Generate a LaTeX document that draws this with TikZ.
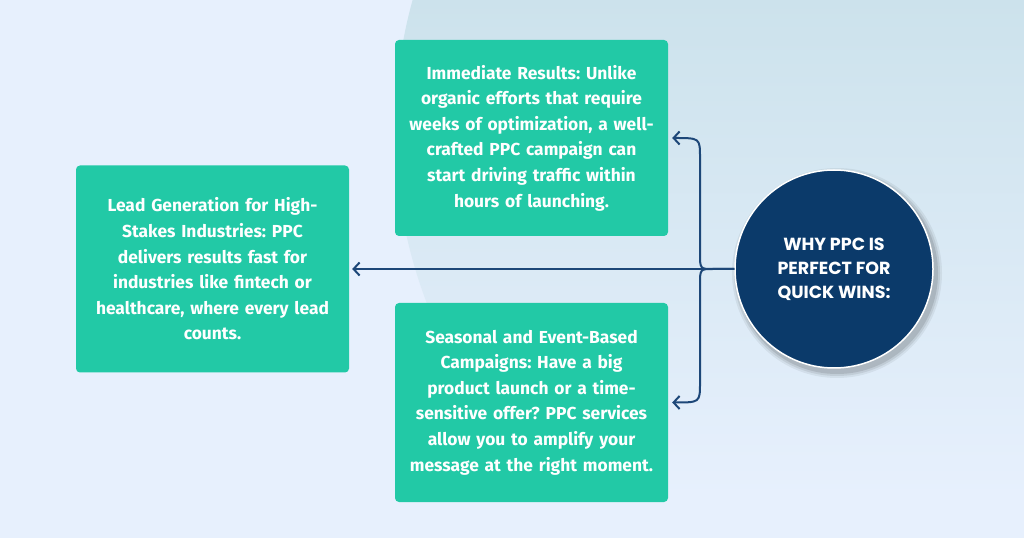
\documentclass[tikz,border=0pt]{standalone}
\usepackage{fontspec}
\setmainfont{Fira Sans}
\newfontfamily\hubfont{Poppins}
\usetikzlibrary{positioning}
\usetikzlibrary{calc}
\usetikzlibrary{arrows.meta}
\definecolor{bgblue}{HTML}{E7F0FD}
\definecolor{bigdisc}{HTML}{C6DFE8}
\definecolor{teal}{HTML}{22C9A6}
\definecolor{navy}{HTML}{0B3A6A}
\definecolor{linkblue}{HTML}{1D4778}

\begin{document}
\frenchspacing
\begin{tikzpicture}[x=1pt, y=1pt,
    card/.style={fill=teal, rounded corners=4pt, minimum width=273pt, text width=262pt, align=center,
        text=white, font=\bfseries\fontsize{17.4}{25.6}\selectfont},
    link/.style={draw=linkblue, line width=2pt, -{Straight Barb[length=6pt, width=13pt, line width=2pt]}}]
    \useasboundingbox (0,0) rectangle (1024,538);
    \fill[bgblue] (0,0) rectangle (1024,538);
    \begin{scope}
        \clip (0,0) rectangle (1024,538);
        \clip (880,408) circle (485);
        \shade[top color=bigdisc, bottom color=bgblue] (380,40) rectangle (1024,650);
    \end{scope}
    % cards
    \node[card, minimum height=196pt] (imm) at (531.5,400) {Immediate Results: Unlike\\organic efforts that require\\weeks of optimization, a well-\\crafted PPC campaign can\\start driving traffic within\\hours of launching.};
    \node[card, minimum height=207pt] (lead) at (212.5,269) {Lead Generation for High-\\Stakes Industries: PPC\\delivers results fast for\\industries like fintech or\\healthcare, where every lead\\counts.};
    \node[card, minimum height=199pt] (season) at (531.5,135.5) {Seasonal and Event-Based\\Campaigns: Have a big\\product launch or a time-\\sensitive offer? PPC services\\allow you to amplify your\\message at the right moment.};
    % hub with soft shadow
    \foreach \s/\o in {6/0.06, 4/0.08, 2/0.1} {
        \fill[black, opacity=\o] (837,265) circle (99+\s);
    }
    \node[circle, fill=navy, draw=white, line width=1.5pt, minimum size=198pt, align=center, text=white,
        font=\hubfont\bfseries\fontsize{17.5}{24}\selectfont] (why) at (834,269) {WHY PPC IS\\PERFECT FOR\\QUICK WINS:};
    \coordinate (fork) at (700,269);
    % connectors
    \draw[link, shorten >=3pt] (why.west) -- (lead.east);
    \draw[link, shorten >=4pt] (why.west) -- ([xshift=13pt]fork) .. controls (fork) .. ([yshift=16pt]fork)
        -- ($(fork |- imm.east)+(0,-20)$) .. controls (fork |- imm.east) .. (imm.east);
    \draw[link, shorten >=4pt] (why.west) -- ([xshift=13pt]fork) .. controls (fork) .. ([yshift=-16pt]fork)
        -- ($(fork |- season.east)+(0,20)$) .. controls (fork |- season.east) .. (season.east);
\end{tikzpicture}
\end{document}
